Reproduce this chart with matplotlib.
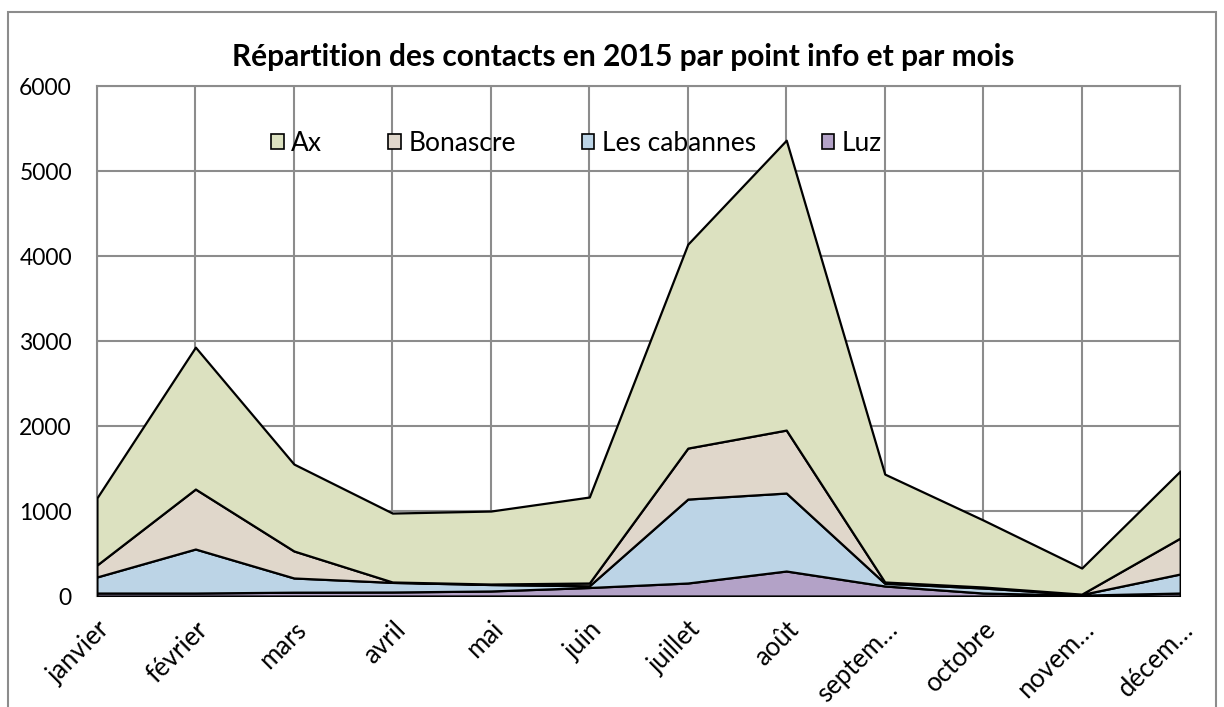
import numpy as np
import matplotlib.pyplot as plt
from matplotlib.patches import Rectangle, Patch

plt.rcParams['font.family'] = ['Lato', 'DejaVu Sans']

# Données (contacts par mois)
mois = ["janvier", "février", "mars", "avril", "mai", "juin",
        "juillet", "août", "septem…", "octobre", "novem…", "décem…"]
luz = [35, 35, 45, 47, 59, 100, 153, 294, 118, 35, 10, 35]
cabannes = [189, 518, 167, 113, 76, 20, 988, 918, 32, 59, 8, 224]
bonascre = [141, 706, 318, 5, 6, 33, 600, 741, 15, 12, 4, 423]
ax_vals = [790, 1670, 1023, 811, 859, 1012, 2400, 3412, 1270, 788, 307, 789]

series = ["Luz", "Les cabannes", "Bonascre", "Ax"]
couleurs = ["#B3A2C7", "#BCD4E6", "#E0D7CB", "#DCE1C0"]

fig = plt.figure(figsize=(12.24, 7.07), dpi=100)
axis = fig.add_axes([0.0792, 0.157, 0.885, 0.721])

x = np.arange(len(mois))
axis.stackplot(x, luz, cabannes, bonascre, ax_vals, colors=couleurs,
               edgecolor="black", linewidth=1.6, zorder=3)

axis.set_xlim(0, len(mois) - 1)
axis.set_ylim(0, 6000)
axis.set_yticks(np.arange(0, 6001, 1000))
axis.set_xticks(x)
axis.set_xticklabels(mois, rotation=45, ha="right", va="top",
                     rotation_mode="anchor", fontsize=18.5)
axis.tick_params(axis="y", labelsize=16.5, length=0, pad=18)
axis.tick_params(axis="x", length=0, pad=15)
axis.grid(True, color="#8C8C8C", linewidth=1.5, zorder=0)
axis.set_axisbelow(True)
for side in ["top", "right", "left", "bottom"]:
    axis.spines[side].set_color("#8C8C8C")
    axis.spines[side].set_linewidth(1.5)

fig.text(0.509, 0.919, "Répartition des contacts en 2015 par point info et par mois",
         ha="center", va="center", fontsize=21.5, fontweight="bold")

# Légende dans la zone de tracé
handles = [Patch(facecolor=c, edgecolor="black", linewidth=1.2) for c in couleurs[::-1]]
leg = fig.legend(handles, series[::-1], loc="center", bbox_to_anchor=(0.471, 0.797),
                 ncol=4, frameon=False, fontsize=19, handlelength=0.48,
                 handleheight=0.48, handletextpad=0.28, columnspacing=2.5)

# Cadre du graphique
fig.patches.append(Rectangle((8 / 1224, -0.05), 1208 / 1224, 1 - 12 / 707 + 0.05,
                             transform=fig.transFigure, fill=False,
                             edgecolor="#8C8C8C", linewidth=1.5))

fig.savefig("out.png", dpi=100)
